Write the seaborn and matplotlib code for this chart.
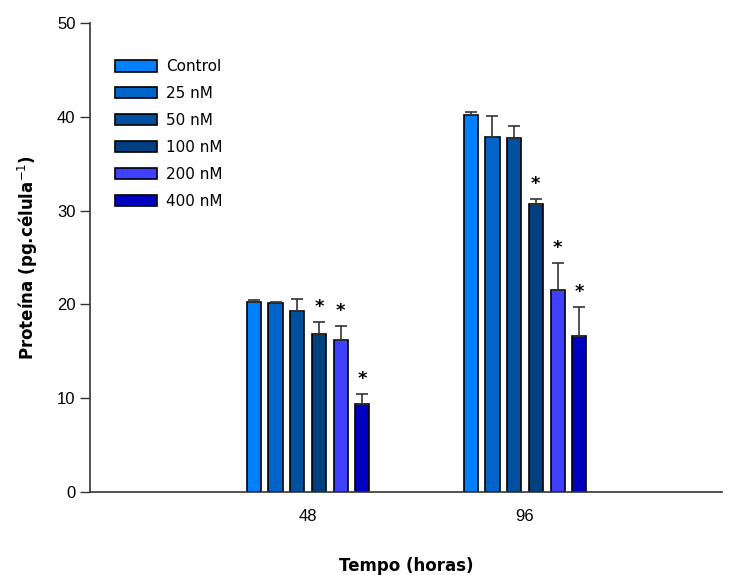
import matplotlib
matplotlib.use("Agg")
import matplotlib.pyplot as plt
import seaborn as sns
import pandas as pd
import numpy as np

times = ["48", "96"]
treatments = ["Control", "25 nM", "50 nM", "100 nM", "200 nM", "400 nM"]
means_48 = [20.25, 20.2, 19.3, 16.8, 16.2, 9.35]
means_96 = [40.2, 37.9, 37.7, 30.7, 21.5, 16.6]
err_48 = [0.25, 0.05, 1.3, 1.3, 1.55, 1.15]
err_96 = [0.3, 2.2, 1.3, 0.5, 2.9, 3.1]
signif_48 = [False, False, False, True, True, True]
signif_96 = [False, False, False, True, True, True]
colors = ["#0080FF", "#0064C8", "#0050A0", "#004080", "#4040FF", "#0000C0"]

rows = []
for t, means, errs, sig in [(times[0], means_48, err_48, signif_48), (times[1], means_96, err_96, signif_96)]:
    for tr, m, e, s in zip(treatments, means, errs, sig):
        rows.append({"Tempo": t, "Tratamento": tr, "Proteina": m, "err": e, "sig": s})
df = pd.DataFrame(rows)

sns.set_style("ticks")
plt.rcParams['font.family'] = ['Liberation Sans', 'DejaVu Sans']
plt.rcParams['text.color'] = 'black'
plt.rcParams['axes.labelcolor'] = 'black'
plt.rcParams['xtick.color'] = 'black'
plt.rcParams['ytick.color'] = 'black'

fig = plt.figure(figsize=(7.33, 5.75), dpi=100)
ax = fig.add_axes([0.1228, 0.1443, 0.8622, 0.8157])

sns.barplot(data=df, x="Tempo", y="Proteina", hue="Tratamento", order=times,
            hue_order=treatments, palette=colors, saturation=1, width=0.6, gap=0.35,
            edgecolor="black", linewidth=1.2, errorbar=None, ax=ax, legend=True)

bars = [p for p in ax.patches if p.get_height() > 0 and p.get_width() < 0.5]
for p in bars:
    xc = p.get_x() + p.get_width() / 2
    h = p.get_height()
    idx = int(round(xc))
    sub = df[df["Tempo"] == times[idx]]
    r = sub.iloc[(sub["Proteina"] - h).abs().argsort().iloc[0]]
    ax.errorbar(xc, h, yerr=[[0], [r["err"]]], fmt="none", ecolor="#333333",
                elinewidth=1.2, capsize=4.5, capthick=1.2, zorder=3)
    if r["sig"]:
        ax.text(xc, h + r["err"] + 1.6, "*", ha="center", va="center",
                fontsize=13, fontweight="bold", family="DejaVu Sans")

ax.set_ylim(0, 50)
ax.set_xlim(-1.005, 1.908)
ax.set_yticks([0, 10, 20, 30, 40, 50])
ax.tick_params(axis="y", length=7, width=1, labelsize=12, direction="out", colors="#333333", labelcolor="black")
ax.tick_params(axis="x", length=0, labelsize=12, pad=12, labelcolor="black")
sns.despine(ax=ax)
for s in ["left", "bottom"]:
    ax.spines[s].set_linewidth(1.2)
    ax.spines[s].set_color("#333333")

ax.set_xlabel("Tempo (horas)", fontsize=12, fontweight="bold", labelpad=24, family="DejaVu Sans", color="black")
ax.set_ylabel("Proteína (pg.célula$^{-1}$)", fontsize=12, fontweight="bold", labelpad=12, family="DejaVu Sans", color="black")

leg = ax.legend(loc="upper left", bbox_to_anchor=(0.017, 0.952), frameon=False,
                handlelength=2.75, handleheight=0.75, labelspacing=0.78,
                handletextpad=0.6, prop={"family": "DejaVu Sans", "size": 11})
for h in leg.legend_handles:
    h.set_edgecolor("black")
    h.set_linewidth(1.2)
for t in leg.get_texts():
    t.set_color("black")

fig.savefig("out.png", dpi=100)
